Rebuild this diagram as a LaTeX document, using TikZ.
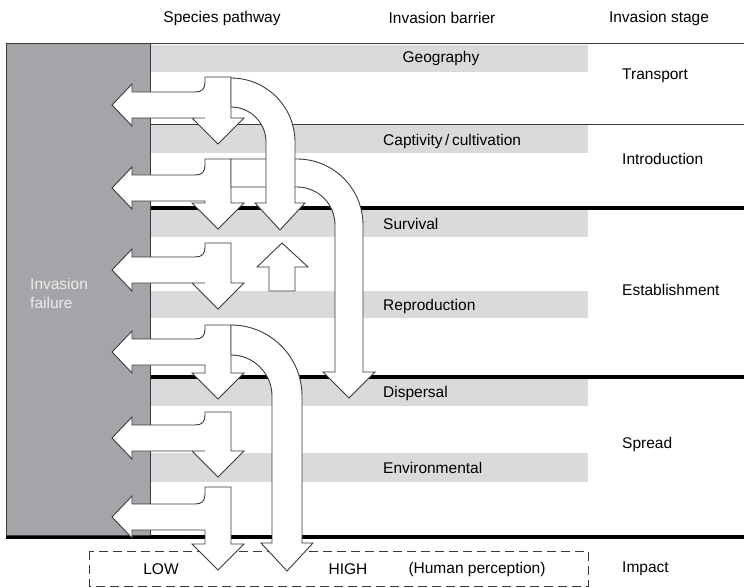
\documentclass[tikz,border=0pt]{standalone}
\usepackage{fontspec}
\setmainfont{Liberation Sans}
\usepackage{tikz}
\usepackage{xcolor}
\definecolor{bandgray}{HTML}{D9DADB}
\definecolor{panelgray}{HTML}{A3A5A8}
\definecolor{edgegray}{HTML}{3A3A3A}
\tikzset{
  blockarrow/.style={fill=white, draw=edgegray, line width=0.9pt, line join=miter},
  label/.style={font=\fontsize{15.5}{18}\selectfont, inner sep=0pt},
  bandlabel/.style={label, anchor=west},
}
\newcommand{\failarrow}[3]{%
  \filldraw[blockarrow] (205,#1) -- (231,#1) -- (231,#3) -- (244,#3) -- (218,{#3+26}) -- (192,#3) -- (205,#3)
    -- (205,{#2+13}) -- (132,{#2+13}) -- (132,{#2+21}) -- (112,#2) -- (132,{#2-21}) -- (132,{#2-13})
    -- (195,{#2-13}) .. controls (202,{#2-13}) and (205,{#2-16}) .. (205,{#2-23}) -- cycle;}

\begin{document}
\begin{tikzpicture}[x=1pt, y=-1pt]
    \useasboundingbox (0,0) rectangle (744,588);
    \foreach \top/\bot in {45/72, 125/153, 208/237, 291/318, 377/406, 453/482}
        \fill[bandgray] (150,\top) rectangle (588,\bot);
    \draw[edgegray, line width=1pt] (6,44) -- (744,44);
    \draw[edgegray, line width=1pt] (150,125) -- (744,125);
    \draw[line width=4pt] (150,208) -- (744,208);
    \draw[line width=4pt] (150,377) -- (744,377);
    \draw[line width=4pt] (6,537) -- (744,537);
    \filldraw[fill=panelgray, draw=edgegray, line width=1pt] (6,44) rectangle (150,535);
    \draw[edgegray, line width=0.9pt, dash pattern=on 9pt off 5pt] (89,551) rectangle (588,586.5);
    \failarrow{77}{105}{118}
    \failarrow{159}{188}{203}
    \failarrow{243}{270}{283}
    \failarrow{325}{352}{373}
    \failarrow{412}{438}{451}
    \failarrow{487}{517}{544}
    \filldraw[blockarrow] (231,325) .. controls (270.2,325) and (302,356.8) .. (302,396) -- (302,543) -- (313,543)
        -- (287,571) -- (261,543) -- (272,543) -- (272,396) .. controls (272,373.4) and (253.6,355) .. (231,355) -- cycle;
    \filldraw[blockarrow] (231,159) -- (297,159) .. controls (333.5,159) and (363,188.5) .. (363,225) -- (363,372)
        -- (375,372) -- (349,398) -- (323,372) -- (335,372) -- (335,225) .. controls (335,204) and (318,187) .. (297,187)
        -- (231,187) -- cycle;
    \filldraw[blockarrow] (231,78) .. controls (266.3,78) and (295,106.7) .. (295,142) -- (295,203) -- (305,203)
        -- (280,230) -- (255,203) -- (266,203) -- (266,142) .. controls (266,122.7) and (250.3,107) .. (231,107) -- cycle;
    \filldraw[blockarrow] (269,291) -- (269,267) -- (257,267) -- (282,243) -- (308,267) -- (295,267) -- (295,291) -- cycle;
    \node[label] (pathway) at (222,18) {Species pathway};
    \node[label] (barrier) at (442,18) {Invasion barrier};
    \node[label] (stage) at (659,18) {Invasion stage};
    \node[label] (geography) at (441,58) {Geography};
    \node[bandlabel] (captivity) at (383,141) {Captivity\,/\,cultivation};
    \node[bandlabel] (survival) at (383,224) {Survival};
    \node[bandlabel] (reproduction) at (383,306) {Reproduction};
    \node[bandlabel] (dispersal) at (383,393) {Dispersal};
    \node[bandlabel] (environmental) at (383,468) {Environmental};
    \node[bandlabel] (transport) at (622,76) {Transport};
    \node[bandlabel] (introduction) at (622,159) {Introduction};
    \node[bandlabel] (establishment) at (622,290) {Establishment};
    \node[bandlabel] (spread) at (622,444) {Spread};
    \node[bandlabel] (impact) at (622,569) {Impact};
    \node[bandlabel, text=white!92!black, align=left] (failure) at (30,293) {Invasion\\[1pt]failure};
    \node[label] (low) at (161,569) {LOW};
    \node[label] (high) at (348,569) {HIGH};
    \node[label] (perception) at (477,569) {(Human perception)};
\end{tikzpicture}
\end{document}
